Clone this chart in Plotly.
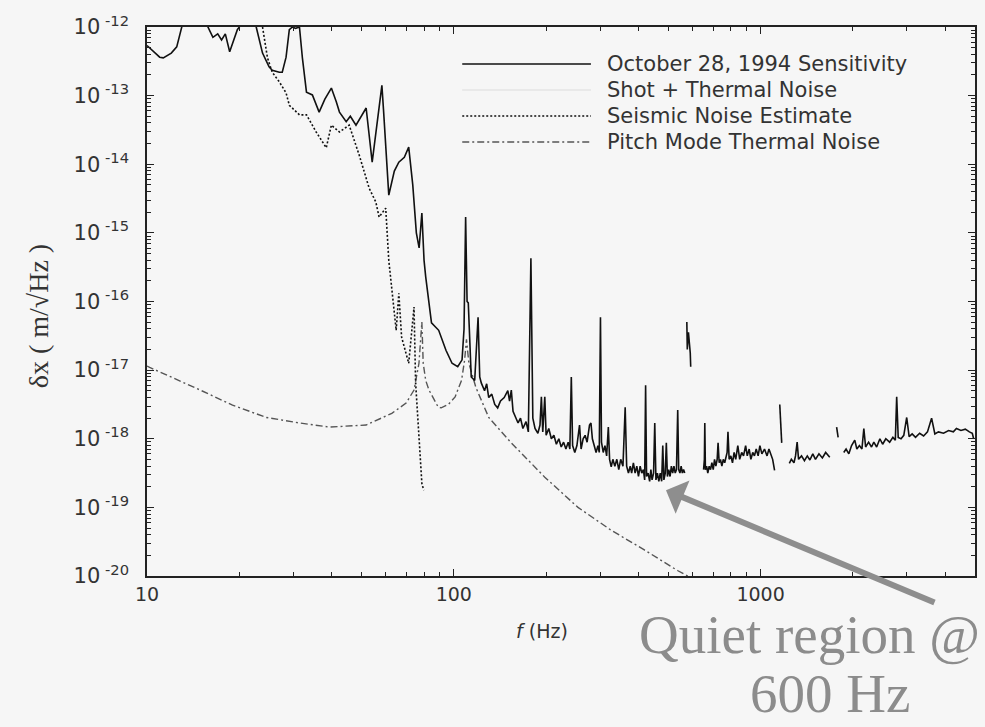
import plotly.graph_objects as go

# ---------------- data (frequency in Hz, amplitude as log10 of m/sqrt(Hz)) ----------------
# October 28, 1994 sensitivity (None marks a gap in the trace)
sens_f = [10.0, 10.5, 11.0, 11.3, 12.0, 12.5, 13.0, 13.5, 15.3, 15.8, 16.4, 17.0, 17.5, 18.0, 18.6, 19.3, 19.7,
          20.0, 20.5, 22.3, 22.7, 23.8, 25.0, 25.6, 27.0, 27.6, 28.4, 29.1, 29.8, 30.5, 31.4, 32.1, 33.1,
          34.6, 36.4, 38.0, 39.9, 41.4, 42.4, 44.6, 46.0, 48.0, 50.0, 51.8, 54.2, 56.0, 58.3, 59.0, 61.4, 64.0,
          66.2, 69.0, 71.3, 73.5, 75.5, 77.1, 78.7, 80.0, 81.0, 84.6, 89.3, 94.3, 98.7, 103.0, 106.4, 108.0,
          109.3, 110.5, 111.5, 114.0, 117.0,
          120.0, 121.5, 123.0, 126.0, 128.0, 130.0, 133.0, 136.0, 139.0, 142.0, 146.0, 150.0, 152.0, 154.0,
          156.0, 159.0, 162.0, 165.0, 168.0, 172.0, 175.0, 178.4, 181.0, 184.0, 188.0, 191.0, 193.0, 195.0,
          198.0, 200.0, 204.0, 208.0, 212.0, 216.0, 220.0, 224.0, 228.0, 232.0, 236.0, 239.0, 241.6, 244.0,
          248.0, 252.0, 257.0, 260.0, 264.0, 268.0, 272.0, 277.0, 280.0, 283.0, 287.0, 291.0, 295.0, 298.0,
          300.7, 303.0, 307.0, 311.0, 315.0, 319.0, 322.0, 326.0, 330.0, 335.0, 340.0, 345.0, 350.0, 356.0,
          362.0, 366.0, 371.0, 376.0, 380.0, 385.0, 390.0, 395.0, 400.0, 405.0, 410.0, 415.0, 419.0, 422.0,
          425.0, 430.0, 435.0, 439.0, 443.0, 448.0, 452.0, 456.0, 461.0, 466.0, 471.0, 476.0, 480.0, 484.0,
          489.0, 493.0, 497.0, 502.0, 507.0, 512.0, 517.0, 522.0, 527.0, 532.0, 537.0, 541.0, 546.0, 551.0,
          556.0, 561.0, 566.0, None,
          575.0, 577.0, 582.0, 590.0, 592.0, None,
          652.0, 656.0, 658.0, 661.0, 667.0, 673.0, 680.0, 687.0, 694.0, 701.0, 708.0, 715.0, 722.0, 727.0,
          733.0, 740.0, 748.0, 756.0, 764.0, 772.0, 778.0, 783.0, 790.0, 800.0, 810.0, 820.0, 830.0, 843.0,
          855.0, 868.0, 880.0, 894.0, 905.0, 918.0, 930.0, 943.0, 955.0, 968.0, 982.0, 995.0, 1010.0, 1030.0,
          1050.0, 1065.0, 1078.0, 1095.0, 1111.0, None,
          1155.0, 1160.0, 1168.0, 1172.0, None,
          1241.0, 1260.0, 1285.0, 1300.0, 1316.0, 1330.0, 1360.0, 1390.0, 1420.0, 1448.0, 1480.0, 1510.0,
          1550.0, 1590.0, 1630.0, 1681.0, None,
          1770.0, 1790.0, None,
          1867.0, 1900.0, 1940.0, 1980.0, 2028.0, 2060.0, 2100.0, 2140.0, 2171.0, 2200.0, 2250.0, 2300.0,
          2340.0, 2390.0, 2449.0, 2500.0, 2560.0, 2635.0, 2700.0, 2750.0, 2778.0, 2810.0, 2870.0, 2930.0,
          2995.0, 3050.0, 3120.0, 3200.0, 3300.0, 3400.0, 3500.0, 3610.0, 3700.0, 3800.0, 3949.0, 4100.0,
          4250.0, 4350.0, 4500.0, 4650.0, 4794.0, 4900.0, 4950.0]
sens_v = [-12.27, -12.35, -12.44, -12.45, -12.38, -12.29, -12.0, -11.7, -11.7, -12.0, -12.15, -12.10, -12.19, -12.10, -12.36, -12.15, -12.04,
          -12.0, -11.7, -11.7, -12.0, -12.38, -12.58, -12.63, -12.66, -12.66, -12.44, -12.04, -12.0, -12.02, -12.0, -12.45, -12.95,
          -12.99, -13.24, -13.05, -12.89, -13.09, -13.24, -13.38, -13.30, -13.43, -13.30, -13.18, -13.97, -13.50, -12.85, -13.20, -14.45, -14.10,
          -13.97, -13.90, -13.75, -14.30, -15.00, -15.22, -14.71, -15.40, -15.64, -16.31, -16.42, -16.71, -16.90, -16.95, -16.85, -16.40,
          -14.77, -16.00, -16.02, -17.10, -17.15,
          -16.23, -17.10, -17.19, -17.30, -17.20, -17.40, -17.35, -17.50, -17.55, -17.45, -17.40, -17.30, -17.45, -17.29,
          -17.60, -17.70, -17.77, -17.70, -17.85, -17.75, -17.90, -15.37, -17.70, -17.85, -17.92, -17.80, -17.39, -17.90,
          -17.39, -17.95, -17.85, -18.00, -17.95, -18.08, -18.00, -18.12, -18.05, -18.15, -18.05, -18.15, -17.10, -18.10,
          -18.20, -18.10, -17.80, -18.15, -18.00, -17.95, -18.05, -17.80, -17.77, -18.00, -18.10, -18.20, -18.10, -18.20,
          -16.23, -18.05, -18.20, -18.10, -18.25, -17.83, -18.30, -18.41, -18.30, -18.40, -18.30, -18.45, -18.30, -18.40,
          -17.54, -18.40, -18.50, -18.40, -18.50, -18.35, -18.50, -18.40, -18.55, -18.40, -18.50, -18.45, -18.60, -17.22,
          -18.55, -18.50, -18.62, -18.45, -18.60, -18.50, -17.77, -18.60, -18.50, -18.62, -18.50, -18.62, -18.10, -18.60,
          -18.50, -18.06, -18.55, -18.45, -18.55, -18.40, -18.50, -18.40, -18.50, -18.45, -17.58, -18.45, -18.50, -18.40,
          -18.50, -18.45, -18.50, None,
          -16.30, -16.70, -16.45, -16.75, -16.95, None,
          -18.45, -18.30, -17.77, -18.45, -18.40, -18.50, -18.40, -18.45, -18.35, -18.45, -18.30, -18.40, -18.30, -18.06,
          -18.35, -18.30, -18.40, -18.30, -18.35, -18.25, -18.20, -17.90, -18.30, -18.25, -18.35, -18.20, -18.30, -18.10,
          -18.30, -18.20, -18.25, -18.10, -18.25, -18.15, -18.30, -18.20, -18.25, -18.15, -18.25, -18.10, -18.22, -18.15,
          -18.25, -18.15, -18.22, -18.30, -18.46, None,
          -17.50, -17.75, -17.90, -18.06, None,
          -18.36, -18.30, -18.35, -18.25, -18.05, -18.30, -18.25, -18.32, -18.25, -18.31, -18.22, -18.30,
          -18.22, -18.28, -18.20, -18.27, None,
          -17.83, -17.98, None,
          -18.20, -18.15, -18.22, -18.10, -18.02, -18.15, -18.10, -18.15, -17.85, -18.12, -18.05, -18.12,
          -18.05, -18.12, -18.00, -18.08, -18.00, -18.05, -17.98, -18.02, -17.39, -17.98, -18.00, -17.95,
          -17.69, -17.97, -17.93, -17.98, -17.92, -17.96, -17.90, -17.70, -17.93, -17.90, -17.92, -17.88,
          -17.90, -17.85, -17.88, -17.86, -17.90, -17.92, -18.00]

# Seismic noise estimate
seis_f = [23.8, 24.7, 25.6, 27.0, 28.4, 29.1, 31.4, 33.1, 35.6, 38.4, 39.9, 42.4, 45.6, 49.2, 53.0, 55.7,
          57.1, 60.0, 61.4, 64.9, 66.2, 67.6, 71.3, 74.2, 75.1, 77.0, 78.7, 79.8]
seis_v = [-12.0, -12.45, -12.66, -12.80, -12.96, -13.14, -13.28, -13.28, -13.53, -13.76, -13.43, -13.53, -13.43, -13.87, -14.35, -14.55,
          -14.77, -14.64, -15.40, -16.42, -15.88, -16.52, -16.90, -16.08, -17.19, -18.02, -18.65, -18.75]

# Pitch mode thermal noise
pitch_f = [10.0, 10.2, 14.9, 19.0, 24.5, 31.4, 39.3, 51.8, 62.8, 69.9, 74.2, 77.0, 78.7, 79.5, 81.0, 83.0,
           89.0, 91.0, 96.0, 101.0, 106.0, 108.5, 110.0, 112.0, 118.0, 130.0, 154.0, 198.0, 254.0, 325.0,
           418.0, 536.0, 579.0]
pitch_v = [-16.94, -16.96, -17.29, -17.51, -17.69, -17.77, -17.83, -17.80, -17.63, -17.48, -17.29, -16.90, -16.30, -16.90, -17.15, -17.29,
           -17.54, -17.55, -17.50, -17.39, -17.15, -16.85, -16.55, -16.90, -17.25, -17.69, -18.06, -18.56, -19.00, -19.33,
           -19.62, -19.92, -20.00]

legend_labels = ["October 28, 1994 Sensitivity", "Shot + Thermal Noise",
                 "Seismic Noise Estimate", "Pitch Mode Thermal Noise"]
x_tick_vals = [10, 100, 1000]
x_tick_text = ["10", "100", "1000"]
y_tick_exps = [-12, -13, -14, -15, -16, -17, -18, -19, -20]


def lin(vals):
    return [None if v is None else 10 ** v for v in vals]


BG = "#f6f6f6"
AX = "#222222"

fig = go.Figure()
fig.add_trace(go.Scatter(x=pitch_f, y=lin(pitch_v), mode="lines",
                         line=dict(color="#555555", width=1.4, dash="7px,3px,2px,3px"),
                         showlegend=False))
fig.add_trace(go.Scatter(x=seis_f, y=lin(seis_v), mode="lines",
                         line=dict(color="#111111", width=1.6, dash="2px,2px"),
                         showlegend=False))
fig.add_trace(go.Scatter(x=sens_f, y=lin(sens_v), mode="lines", connectgaps=False,
                         line=dict(color="#111111", width=1.6),
                         showlegend=False))

# minor tick positions (axis decoration)
x_minor = [m * 10 ** e for e in (1, 2, 3) for m in range(2, 10) if m * 10 ** e <= 5000]
y_minor = [m * 10.0 ** e for e in range(-20, -12) for m in range(2, 10)]

fig.update_xaxes(type="log", range=[1, 3.699], tickmode="array", tickvals=x_tick_vals,
                 ticktext=x_tick_text, ticks="inside", ticklen=7, tickwidth=1.2, tickcolor=AX,
                 showline=True, linecolor=AX, linewidth=1.6, mirror="ticks", showgrid=False,
                 zeroline=False, tickfont=dict(family="DejaVu Sans", size=19, color="#333"),
                 minor=dict(tickmode="array", tickvals=x_minor, ticks="inside", ticklen=4,
                            tickcolor=AX, tickwidth=1, showgrid=False))
fig.update_yaxes(type="log", range=[-20, -12], tickmode="array",
                 tickvals=[10.0 ** e for e in y_tick_exps],
                 ticktext=["10<sup> %d</sup>" % e for e in y_tick_exps],
                 ticks="inside", ticklen=7, tickwidth=1.2, tickcolor=AX,
                 showline=True, linecolor=AX, linewidth=1.6, mirror="ticks", showgrid=False,
                 zeroline=False, ticklabelstandoff=12,
                 tickfont=dict(family="DejaVu Sans", size=21, color="#333"),
                 minor=dict(tickmode="array", tickvals=y_minor, ticks="inside", ticklen=4,
                            tickcolor=AX, tickwidth=1, showgrid=False))

L, R, T, B = 147, 977, 27, 576
W, H = R - L, B - T


def px(x):
    return (x - L) / W


def py(y):
    return (B - y) / H


# manual legend (long line samples as in the original)
legend_rows = [64, 90, 116, 142]
legend_styles = [dict(color="#111111", width=1.4, dash="solid"),
                 dict(color="#e4e4e4", width=1.4, dash="solid"),
                 dict(color="#111111", width=1.5, dash="2px,2px"),
                 dict(color="#555555", width=1.4, dash="7px,3px,2px,3px")]
for yy, st, lab in zip(legend_rows, legend_styles, legend_labels):
    fig.add_shape(type="line", xref="paper", yref="paper", x0=px(463), x1=px(592),
                  y0=py(yy), y1=py(yy), line=st)
    fig.add_annotation(xref="paper", yref="paper", x=px(606), y=py(yy), text=lab,
                       showarrow=False, xanchor="left", yanchor="middle",
                       font=dict(family="DejaVu Sans", size=21, color="#333"))

# axis titles
fig.add_annotation(xref="paper", yref="paper", x=px(38), y=py(316), textangle=-90,
                   xanchor="center", yanchor="middle",
                   text="δx ( m/√Hz )", showarrow=False,
                   font=dict(family="Liberation Serif", size=28, color="#333"))
fig.add_annotation(xref="paper", yref="paper", x=px(543), y=py(631),
                   xanchor="center", yanchor="middle",
                   text="<i>f</i> (Hz)", showarrow=False,
                   font=dict(family="DejaVu Sans", size=19, color="#333"))

# slide annotation
fig.add_annotation(xref="paper", yref="paper", x=px(984), y=py(634), xanchor="right",
                   yanchor="middle", text="Quiet region @", showarrow=False,
                   font=dict(family="Liberation Serif", size=55, color="#8c8c8c"))
fig.add_annotation(xref="paper", yref="paper", x=px(832), y=py(726), xanchor="center",
                   yanchor="bottom", text="600 Hz", showarrow=False,
                   font=dict(family="Liberation Serif", size=55, color="#8c8c8c"))
fig.add_annotation(x=2.6917, y=-18.75, xref="x", yref="y", text="", showarrow=True,
                   ax=270, ay=113, arrowhead=1, arrowsize=1, arrowwidth=6,
                   arrowcolor="#8e8e8e")

fig.update_layout(width=985, height=727, margin=dict(l=L, r=985 - R, t=T, b=727 - B),
                  paper_bgcolor=BG, plot_bgcolor=BG, showlegend=False)

fig.write_html("out.html")
